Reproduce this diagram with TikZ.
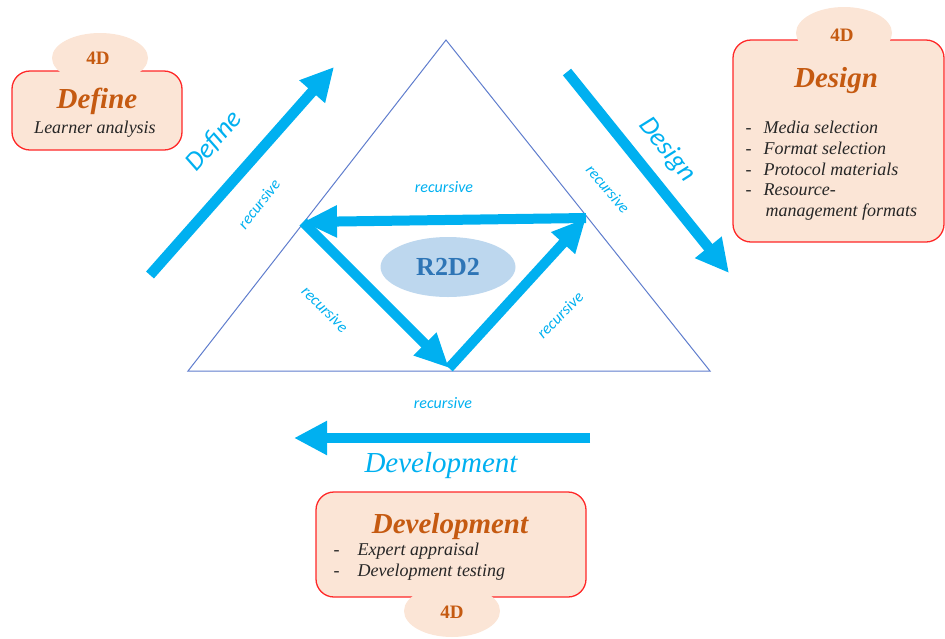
\documentclass[tikz,border=0pt]{standalone}
\usepackage{fontspec}
\setmainfont{Liberation Serif}
\newfontfamily\labelfont{Carlito}
\usetikzlibrary{arrows.meta,shapes.geometric}
\definecolor{flow}{RGB}{0,176,240}
\definecolor{boxfill}{RGB}{251,229,214}
\definecolor{boxline}{RGB}{255,40,40}
\definecolor{titlecol}{RGB}{197,90,17}
\definecolor{triline}{RGB}{95,125,205}
\definecolor{corefill}{RGB}{189,215,238}
\definecolor{coretext}{RGB}{46,117,182}
\tikzset{
  bigarrow/.style={draw=flow, line width=10.5pt, -{Triangle[width=32pt,length=33pt]}, fill=flow},
  innerarrow/.style={draw=flow, line width=10pt, -{Triangle[width=30pt,length=34pt]}, fill=flow},
  phasebox/.style={draw=boxline, line width=1.3pt, fill=boxfill, rounded corners=18pt},
  bump/.style={ellipse, fill=boxfill, inner sep=0pt},
  title/.style={text=titlecol, font=\fontsize{29}{32}\selectfont\bfseries\itshape},
  fourd/.style={text=titlecol, font=\fontsize{19}{21}\selectfont\bfseries},
  item/.style={anchor=west, font=\fontsize{18}{20}\selectfont\itshape, text=black!85},
  rec/.style={text=flow, font=\labelfont\fontsize{16}{18}\selectfont\itshape},
  phase/.style={text=flow, font=\labelfont\fontsize{27}{30}\selectfont\itshape},
}
\begin{document}
\begin{tikzpicture}[x=1pt,y=-1pt]
\useasboundingbox (0,0) rectangle (945,638);

% outer triangle
\coordinate (apex) at (446,40);
\coordinate (bl) at (188,371);
\coordinate (br) at (710,371);
\draw[triline, line width=1pt] (apex) -- (br) -- (bl) -- cycle;

% inner recursive cycle
\coordinate (cl) at (303,222);
\coordinate (cr) at (586,218);
\coordinate (cb) at (449,368);
\draw[innerarrow] (cr) -- (cl);
\draw[innerarrow] (cl) -- (cb);
\draw[innerarrow] (cb) -- (cr);

\node[ellipse, fill=corefill, minimum width=135pt, minimum height=60pt, inner sep=0pt,
      text=coretext, font=\fontsize{26}{28}\selectfont\bfseries] (core) at (448,267) {R2D2};

% outer phase arrows
\coordinate (defS) at (150,275);
\coordinate (defE) at (334,67);
\coordinate (desS) at (567,72);
\coordinate (desE) at (729,273);
\coordinate (devS) at (590,438);
\coordinate (devE) at (294,438);
\draw[bigarrow] (defS) -- (defE);
\draw[bigarrow] (desS) -- (desE);
\draw[bigarrow] (devS) -- (devE);

\node[phase, rotate=48.5] (defL) at (214,141) {Define};
\node[phase, rotate=-51] (desL) at (667,150) {Design};
\node[text=flow, font=\fontsize{29}{31}\selectfont\itshape] (devL) at (441,466) {Development};

% recursive labels
\node[rec, rotate=52] (r1) at (259,204) {recursive};
\node[rec] (r2) at (444,187) {recursive};
\node[rec, rotate=-50] (r3) at (608,189) {recursive};
\node[rec, rotate=-45] (r4) at (325,309) {recursive};
\node[rec, rotate=45] (r5) at (560,315) {recursive};
\node[rec] (r6) at (443,403) {recursive};

% Define box
\draw[phasebox] (12,71) rectangle (182,150);
\node[bump, minimum width=96pt, minimum height=50pt] (defB) at (100,58) {};
\node[fourd] (defD) at (98,58) {4D};
\node[title] (defT) at (97,101) {Define};
\node[font=\fontsize{18}{20}\selectfont\itshape, text=black!85] (defI) at (95,129) {Learner analysis};

% Design box
\draw[phasebox] (733,40) rectangle (944,242);
\node[bump, minimum width=96pt, minimum height=52pt] (desB) at (844,33) {};
\node[fourd] (desD) at (842,35) {4D};
\node[title] (desT) at (836,81) {Design};
\node[item] (desI1) at (742,127) {-\hspace{12pt}Media selection};
\node[item] (desI2) at (742,148) {-\hspace{12pt}Format selection};
\node[item] (desI3) at (742,169) {-\hspace{12pt}Protocol materials};
\node[item] (desI4) at (742,190) {-\hspace{12pt}Resource-};
\node[item] (desI5) at (762,212) {management formats};

% Development box
\draw[phasebox] (316,492) rectangle (586,597);
\node[bump, minimum width=96pt, minimum height=52pt] (devB) at (452,611) {};
\node[fourd] (devD) at (452,612) {4D};
\node[title] (devT) at (450,527) {Development};
\node[item] (devI1) at (330,551) {-\hspace{18pt}Expert appraisal};
\node[item] (devI2) at (330,572) {-\hspace{18pt}Development testing};
\end{tikzpicture}
\end{document}
